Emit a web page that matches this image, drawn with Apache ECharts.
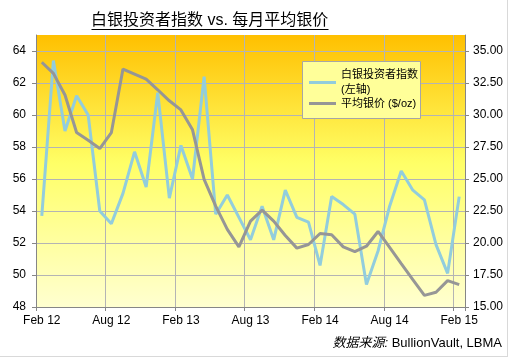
<!DOCTYPE html>
<html>
<head>
<meta charset="utf-8">
<script src="https://cdn.jsdelivr.net/npm/echarts@6/dist/echarts.min.js"></script>
<style>
html,body{margin:0;padding:0;background:#fff;}
#c{width:509px;height:358px;}
</style>
</head>
<body>
<div id="c"></div>
<script>
const months = ["Feb 12","Mar 12","Apr 12","May 12","Jun 12","Jul 12","Aug 12","Sep 12","Oct 12","Nov 12","Dec 12","Jan 13",
  "Feb 13","Mar 13","Apr 13","May 13","Jun 13","Jul 13","Aug 13","Sep 13","Oct 13","Nov 13","Dec 13","Jan 14",
  "Feb 14","Mar 14","Apr 14","May 14","Jun 14","Jul 14","Aug 14","Sep 14","Oct 14","Nov 14","Dec 14","Jan 15","Feb 15"];
const investorIndex = [53.7,63.4,59.0,61.2,60.0,54.0,53.2,55.1,57.7,55.5,61.4,54.8,
  58.1,56.0,62.4,53.8,55.0,53.6,52.2,54.3,52.2,55.3,53.6,53.3,
  50.6,54.9,54.4,53.8,49.4,51.5,54.3,56.5,55.3,54.7,51.9,50.1,54.9];
const silverPrice = [34.12,33.25,31.56,28.63,28.03,27.38,28.63,33.59,33.2,32.81,31.97,31.11,
  30.40,28.84,24.97,22.88,21.06,19.70,21.71,22.57,21.71,20.59,19.60,19.88,
  20.74,20.64,19.70,19.33,19.75,20.90,19.65,18.39,17.14,15.91,16.15,17.06,16.75];
const seriesNames = ["白银投资者指数\n(左轴)", "平均银价 ($/oz)"];
const titleText = "白银投资者指数 vs. 每月平均银价";

const chart = echarts.init(document.getElementById('c'), null, {renderer:'canvas'});
const axisGray = '#868686';
const gridGray = '#B4B4B4';
const fontFam = "'Liberation Sans', Arial, 'Noto Sans CJK SC', sans-serif";

chart.setOption({
  animation: false,
  textStyle: {fontFamily: fontFam},
  title: [{
    text: titleText,
    left: 91, top: 12, padding: 0,
    textStyle: {fontSize: 16, fontWeight: 'normal', color: '#000', lineHeight: 17, fontFamily: fontFam}
  }, {
    text: '{i|数据来源:} BullionVault, LBMA',
    right: 7, top: 337, padding: 0,
    textStyle: {fontSize: 13, fontWeight: 'normal', color: '#000', fontFamily: fontFam,
      rich: {i: {fontStyle: 'italic', fontSize: 13, color: '#000', fontFamily: fontFam}}}
  }],
  graphic: [
    {type: 'line', shape: {x1: 91.5, y1: 29.5, x2: 328.5, y2: 29.5}, style: {stroke: '#000', lineWidth: 1}},
    {type: 'line', shape: {x1: 507.5, y1: 0, x2: 507.5, y2: 357}, style: {stroke: '#D9D9D9', lineWidth: 1}},
    {type: 'line', shape: {x1: 0, y1: 356.5, x2: 508, y2: 356.5}, style: {stroke: '#D9D9D9', lineWidth: 1}},
    {type: 'rect', z: 3, shape: {x: 302.5, y: 61.5, width: 118, height: 57},
      style: {fill: '#FFFF99', stroke: '#A6A6A6', lineWidth: 1}}
  ],
  legend: {
    orient: 'vertical',
    left: 309, top: 60,
    padding: 0,
    itemGap: -9,
    itemWidth: 27, itemHeight: 3,
    icon: 'rect',
    z: 5,
    textStyle: {fontSize: 11, color: '#000', lineHeight: 15, fontFamily: fontFam},
    data: [
      {name: seriesNames[0], textStyle: {padding: [15, 0, 0, 0]}},
      {name: seriesNames[1]}
    ]
  },
  grid: {
    left: 36, right: 44, top: 35, bottom: 51,
    show: true, borderWidth: 0,
    backgroundColor: new echarts.graphic.LinearGradient(0, 0, 0, 1, [
      {offset: 0, color: '#FFC000'},
      {offset: 0.47, color: '#FFFF66'},
      {offset: 1, color: '#FFFFD0'}
    ])
  },
  xAxis: {
    type: 'category',
    data: months,
    boundaryGap: true,
    axisLine: {lineStyle: {color: axisGray, width: 1}},
    axisTick: {show: true, interval: 5, length: 4, lineStyle: {color: axisGray}},
    axisLabel: {interval: 5, color: '#000', fontSize: 12, margin: 8, fontFamily: fontFam},
    splitLine: {show: true, interval: 5, lineStyle: {color: gridGray, width: 1}}
  },
  yAxis: [{
    type: 'value', min: 48, max: 65, interval: 2,
    axisLine: {show: true, lineStyle: {color: axisGray}},
    axisTick: {show: true, length: 4, lineStyle: {color: axisGray}},
    axisLabel: {color: '#000', fontSize: 12, margin: 10, showMaxLabel: false, fontFamily: fontFam},
    splitLine: {show: true, showMaxLine: false, lineStyle: {color: gridGray, width: 1}}
  }, {
    type: 'value', min: 15, max: 36.25, interval: 2.5,
    position: 'right',
    axisLine: {show: true, lineStyle: {color: axisGray}},
    axisTick: {show: true, length: 4, lineStyle: {color: axisGray}},
    axisLabel: {color: '#000', fontSize: 12, margin: 8, showMaxLabel: false, fontFamily: fontFam,
      formatter: v => v.toFixed(2)},
    splitLine: {show: false}
  }],
  series: [{
    name: seriesNames[0], type: 'line', yAxisIndex: 0,
    data: investorIndex, symbol: 'none', showSymbol: false,
    lineStyle: {color: '#92CDDD', width: 3}, itemStyle: {color: '#92CDDD'}
  }, {
    name: seriesNames[1], type: 'line', yAxisIndex: 1,
    data: silverPrice, symbol: 'none', showSymbol: false,
    lineStyle: {color: '#969696', width: 3}, itemStyle: {color: '#969696'}
  }]
});
</script>
</body>
</html>
